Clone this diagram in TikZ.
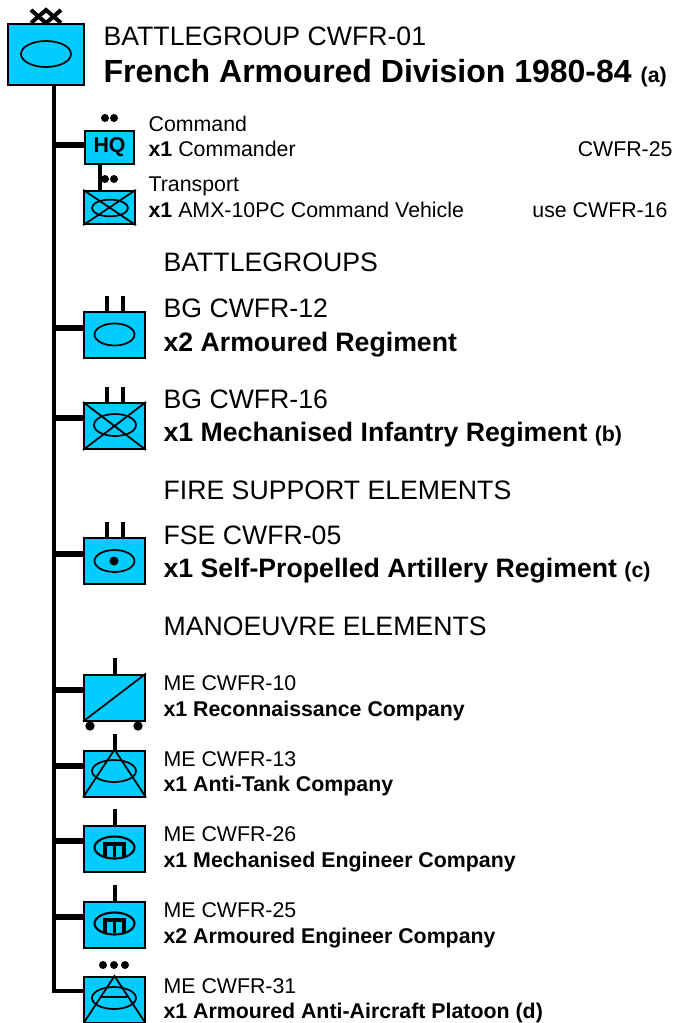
\documentclass[tikz,border=0pt]{standalone}
\usepackage{fontspec}
\setmainfont{Liberation Sans}
\usetikzlibrary{positioning,shapes.geometric}
\definecolor{unitblue}{HTML}{00CCFF}
\newcommand{\fs}[1]{\fontsize{#1}{#1}\selectfont}
\begin{document}
\begin{tikzpicture}[
    x=0.75pt, y=-0.75pt,
    unit/.style={rectangle, draw, fill=unitblue, line width=1.5pt, inner sep=0pt, minimum width=45.75pt, minimum height=34.5pt},
    oval/.style={ellipse, draw, line width=1.3pt, inner sep=0pt, minimum width=30pt, minimum height=16.5pt},
    sign/.style={line width=1.3pt},
    trunk/.style={line width=3.4pt},
    branch/.style={line width=3.8pt},
    tick/.style={line width=3pt},
    dot/.style={circle, fill, inner sep=0pt, minimum size=6pt},
    head/.style={anchor=base west, inner sep=0pt, xshift=-0.5pt, yshift=-0.75pt, font=\fs{20}},
    bighead/.style={anchor=base west, inner sep=0pt, xshift=-0.5pt, yshift=-0.75pt, font=\fs{20}\bfseries},
    small/.style={anchor=base west, inner sep=0pt, xshift=-0.5pt, yshift=-0.75pt, font=\fs{16}},
    smallbold/.style={anchor=base west, inner sep=0pt, xshift=-0.5pt, yshift=-0.75pt, font=\fs{16}\bfseries}
]
    \useasboundingbox (0,0) rectangle (674,1023);

    % division
    \node[unit, minimum width=57pt, minimum height=45.75pt] (div) at (46,54.5) {};
    \node[oval, minimum width=37.5pt, minimum height=19.5pt] (divoval) at (46,54) {};
    \draw[line width=3pt] (31,10) -- (46,23) -- (61,10);
    \draw[line width=3pt] (31,23) -- (46,10) -- (61,23);
    \node[head] (divname) at (104,45) {BATTLEGROUP CWFR-01};
    \node[bighead, font=\fs{24}\bfseries] (divtitle) at (104,82) {French Armoured Division 1980-84 {\fs{16}(a)}};

    % command
    \node[unit, minimum width=37pt, minimum height=25pt] (hq) at (109.5,147.5) {\fs{16}\bfseries HQ};
    \node[unit, minimum width=38pt, minimum height=25pt] (cv) at (109.5,207.5) {};
    \node[oval, minimum width=27pt, minimum height=12.5pt] (cvoval) at (110,208) {};
    \draw[sign] (cv.north west) -- (cv.south east) (cv.south west) -- (cv.north east);
    \draw[tick] (hq.south -| 100,0) -- (cv.north -| 100,0);
    \foreach \yy/\nn in {118/a,179/b} {
        \node[dot] (d1\nn) at (105,\yy) {};
        \node[dot] (d2\nn) at (114,\yy) {};
    }
    \node[small] (cmdname) at (149,131) {Command};
    \node[small] (cmdline) at (149,156) {\textbf{x1} Commander};
    \node[small, anchor=base east] (cmdref) at (673.5,156) {CWFR-25};
    \node[small] (cvname) at (149,191) {Transport};
    \node[small] (cvline) at (149,217) {\textbf{x1} AMX-10PC Command Vehicle};
    \node[small, anchor=base east] (cvref) at (668.5,217) {use CWFR-16};

    % battlegroups
    \node[head] (bgtitle) at (164,271) {BATTLEGROUPS};
    \node[unit] (arm) at (114.5,335) {};
    \node[oval] (armoval) at (114.5,334.5) {};
    \node[head] (armname) at (164,316) {BG CWFR-12};
    \node[bighead] (armline) at (164,350) {x2 Armoured Regiment};

    \node[unit] (inf) at (114.5,426) {};
    \node[oval, minimum width=31.5pt] (infoval) at (115,425) {};
    \draw[sign] (inf.north west) -- (inf.south east) (inf.south west) -- (inf.north east);
    \node[head] (infname) at (164,407) {BG CWFR-16};
    \node[bighead] (infline) at (164,440) {x1 Mechanised Infantry Regiment {\fs{16}(b)}};

    % fire support
    \node[head] (fsetitle) at (164,498) {FIRE SUPPORT ELEMENTS};
    \node[unit] (art) at (114.5,561) {};
    \node[oval] (artoval) at (114.5,561) {};
    \node[dot, minimum size=6.75pt] (artdot) at (114,561) {};
    \node[head] (artname) at (164,543) {FSE CWFR-05};
    \node[bighead] (artline) at (164,576) {x1 Self-Propelled Artillery Regiment {\fs{16}(c)}};

    % manoeuvre
    \node[head] (metitle) at (164,634) {MANOEUVRE ELEMENTS};
    \node[unit] (rec) at (114.5,697.5) {};
    \draw[sign] (rec.south west) -- (rec.north east);
    \node[dot, minimum size=7pt] (recw1) at (90,726) {};
    \node[dot, minimum size=7pt] (recw2) at (138,726) {};
    \node[small] (recname) at (164,689) {ME CWFR-10};
    \node[smallbold] (recline) at (164,715) {x1 Reconnaissance Company};

    \node[unit] (at) at (114.5,773.5) {};
    \node[oval, minimum width=33pt] (atoval) at (114,771) {};
    \draw[sign] (at.south west) -- (at.north) -- (at.south east);
    \node[small] (atname) at (164,765) {ME CWFR-13};
    \node[smallbold] (atline) at (164,790) {x1 Anti-Tank Company};

    \foreach \nn/\yy/\lbl/\txt/\ly in {mec/848.5/26/x1 Mechanised Engineer Company/841, ae/924.5/25/x2 Armoured Engineer Company/917} {
        \node[unit] (\nn) at (114.5,\yy) {};
        \node[oval, line width=1.6pt] (\nn oval) at (114.5,\yy-1) {};
        \draw[line width=3pt] ([xshift=-8.5pt,yshift=3pt]\nn oval.center) -- ([xshift=8.5pt,yshift=3pt]\nn oval.center);
        \foreach \dx in {-7,0,7} {
            \draw[line width=2.6pt] ([xshift=\dx pt,yshift=3pt]\nn oval.center) -- ([xshift=\dx pt,yshift=-7pt]\nn oval.center);
        }
        \node[small] (\nn name) at (164,\ly-1) {ME CWFR-\lbl};
        \node[smallbold] (\nn line) at (164,\ly+25) {\txt};
    }

    \node[unit] (aa) at (114.5,1000) {};
    \node[oval, minimum width=33pt] (aaoval) at (114,998) {};
    \draw[sign] (aa.south west) -- (aa.north) -- (aa.south east);
    \draw[sign] (102,997) -- (127,997);
    \foreach \xx in {103,114,125} \node[dot] (aad\xx) at (\xx,965) {};
    \node[small] (aaname) at (164,992) {ME CWFR-31};
    \node[smallbold] (aaline) at (164,1017) {x1 Armoured Anti-Aircraft Platoon (d)};

    % ticks above the unit boxes
    \foreach \nn in {arm,inf,art} {
        \draw[tick] ([xshift=-5.6pt]\nn.north) -- ++(0,11pt);
        \draw[tick] ([xshift=6.4pt]\nn.north) -- ++(0,11pt);
    }
    \foreach \nn in {rec,at,mec,ae} \draw[tick] (\nn.north) -- ++(0,11.5pt);

    % trunk line
    \coordinate (trunkend) at (54,991);
    \draw[trunk] (div.south -| trunkend) -- (trunkend) -- (trunkend -| aa.west);
    \foreach \nn/\yy in {hq/145,arm/328,inf/418,art/554,rec/690,at/766,mec/841,ae/917} {
        \coordinate (j\nn) at (54,\yy);
        \draw[branch] (j\nn) -- (j\nn -| \nn.west);
    }
\end{tikzpicture}
\end{document}
